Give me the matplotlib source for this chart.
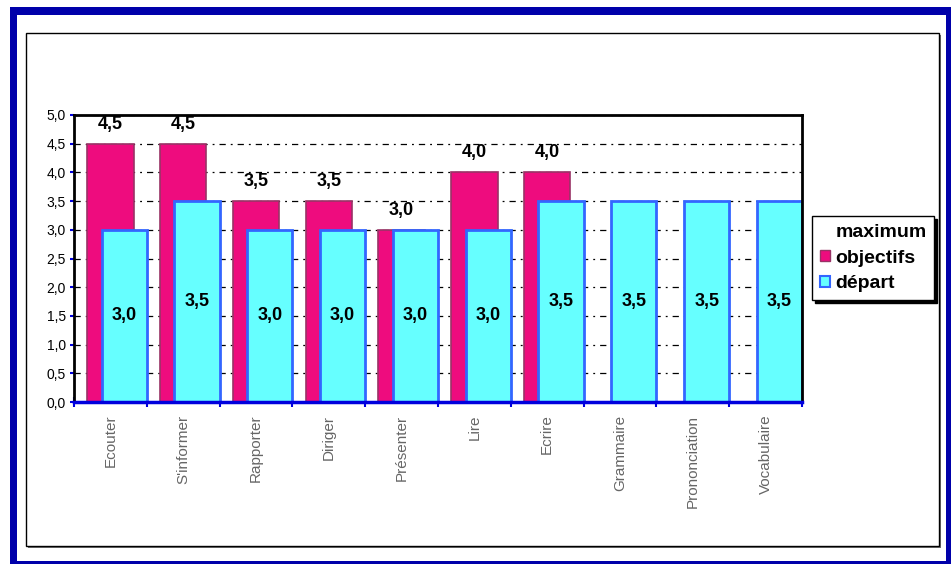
import matplotlib
matplotlib.use("Agg")
import matplotlib.pyplot as plt
from matplotlib.patches import Rectangle, Patch
from matplotlib.ticker import FuncFormatter, MultipleLocator, FixedLocator

plt.rcParams['font.family'] = ['Liberation Sans', 'DejaVu Sans']

categories = ["Ecouter", "S'informer", "Rapporter", "Diriger", "Présenter",
              "Lire", "Ecrire", "Grammaire", "Prononciation", "Vocabulaire"]
objectifs = [4.5, 4.5, 3.5, 3.5, 3.0, 4.0, 4.0, None, None, None]
depart = [3.0, 3.5, 3.0, 3.0, 3.0, 3.0, 3.5, 3.5, 3.5, 3.5]
series_names = ["maximum", "objectifs", "départ"]

W, H = 951, 564
fig = plt.figure(figsize=(W / 100, H / 100), dpi=100, facecolor="white")


def px_rect(x0, y0, x1, y1, **kw):
    """Rectangle given in pixel coordinates with the origin at top-left."""
    r = Rectangle((x0 / W, 1 - y1 / H), (x1 - x0) / W, (y1 - y0) / H,
                  transform=fig.transFigure, zorder=-10, **kw)
    fig.add_artist(r)
    return r


# dark blue outer frame and inner chart-area frame with shadow
px_rect(10, 7, W + 5, H + 5, facecolor="#0000AA", edgecolor="none")
px_rect(17, 15, 946, 561, facecolor="white", edgecolor="none")
px_rect(28, 35, 941, 548, facecolor="#707070", edgecolor="none")
px_rect(26, 33, 939, 546, facecolor="white", edgecolor="black", linewidth=1)

ax_l, ax_r, ax_t, ax_b = 74, 802, 115, 402
ax = fig.add_axes([ax_l / W, 1 - ax_b / H, (ax_r - ax_l) / W, (ax_b - ax_t) / H])
ax.set_facecolor("white")

MAGENTA = "#EE0C7E"
MAGENTA_EDGE = "#993366"
CYAN = "#66FFFF"
CYAN_EDGE = "#3366FF"

x = list(range(len(categories)))
obj_x = [i for i, v in zip(x, objectifs) if v is not None]
obj_v = [v for v in objectifs if v is not None]

ax.bar(obj_x, obj_v, width=0.64, color=MAGENTA, edgecolor=MAGENTA_EDGE,
       linewidth=1.2, zorder=2)
dep_x = [i + 0.19 for i in x]
ax.bar(dep_x, depart, width=0.62, color=CYAN, edgecolor=CYAN_EDGE,
       linewidth=2, zorder=3)

fmt = lambda v: f"{v:.1f}".replace(".", ",")

for xi, v in zip(obj_x, obj_v):
    ax.annotate(fmt(v), (xi, v), xytext=(0, 8), textcoords="offset points",
                ha="center", va="bottom", fontsize=13, fontweight="bold",
                zorder=5)
for xi, v in zip(dep_x, depart):
    ax.text(xi, v / 2, fmt(v), ha="center", va="center", fontsize=13,
            fontweight="bold", zorder=5)

ax.set_xlim(-0.5, len(categories) - 0.5)
ax.set_ylim(0, 5)
ax.yaxis.set_major_locator(MultipleLocator(0.5))
ax.yaxis.set_major_formatter(FuncFormatter(lambda v, p: fmt(v)))
ax.tick_params(axis="y", direction="out", length=3, width=1.5, color="#0000DD",
               labelsize=10, pad=3)

ax.xaxis.set_major_locator(FixedLocator(x))
ax.set_xticklabels(categories, rotation=90, fontsize=11, color="#666666",
                   va="top", ha="center")
ax.xaxis.set_minor_locator(FixedLocator([i - 0.5 for i in range(len(categories) + 1)]))
ax.tick_params(axis="x", which="major", length=0, pad=9)
ax.tick_params(axis="x", which="minor", direction="inout", length=7, width=1.5,
               color="#0000DD")

ax.yaxis.grid(True, color="black", linewidth=0.9, dashes=(5, 4, 1.5, 4))
ax.set_axisbelow(True)

for side in ("top", "right", "left"):
    ax.spines[side].set_color("black")
    ax.spines[side].set_linewidth(2)
ax.spines["bottom"].set_color("#0000DD")
ax.spines["bottom"].set_linewidth(2.5)
for sp in ax.spines.values():
    sp.set_zorder(4)

handles = [Patch(facecolor="none", edgecolor="none"),
           Patch(facecolor=MAGENTA, edgecolor=MAGENTA_EDGE, linewidth=1),
           Patch(facecolor=CYAN, edgecolor=CYAN_EDGE, linewidth=1.5)]
leg = fig.legend(handles, series_names, loc="upper left",
                 bbox_to_anchor=(812 / W, 1 - 216 / H),
                 prop={"weight": "bold", "size": 14},
                 frameon=True, fancybox=False, edgecolor="black",
                 shadow={"color": "black", "alpha": 1},
                 handlelength=0.5, handleheight=0.5, handletextpad=0.3,
                 borderpad=0.4, labelspacing=0.45, borderaxespad=0)
leg.get_frame().set_linewidth(1)

fig.savefig("out.png", dpi=100, facecolor="white")
